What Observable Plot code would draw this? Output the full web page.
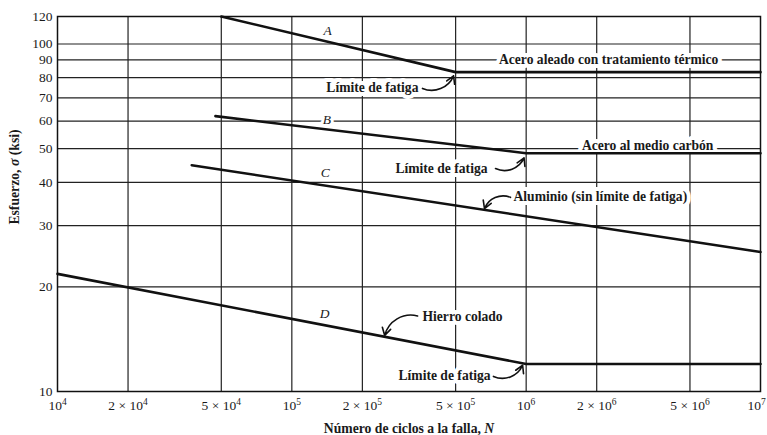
<!DOCTYPE html>
<html>
<head>
<meta charset="utf-8">
<script src="https://cdn.jsdelivr.net/npm/d3@7"></script>
<script src="https://cdn.jsdelivr.net/npm/@observablehq/plot@0.6"></script>
<style>
  html, body { margin: 0; padding: 0; background: #fff; }
</style>
</head>
<body>
<div id="chart"></div>
<script>
// ---- Axis ticks ----
const xTicks = [1e4, 2e4, 5e4, 1e5, 2e5, 5e5, 1e6, 2e6, 5e6, 1e7];
const xTickLabels = ["10⁴", "2 × 10⁴", "5 × 10⁴", "10⁵", "2 × 10⁵", "5 × 10⁵", "10⁶", "2 × 10⁶", "5 × 10⁶", "10⁷"];
const yTicks = [10, 20, 30, 40, 50, 60, 70, 80, 90, 100, 120];
const xGrid = [2e4, 5e4, 1e5, 2e5, 5e5, 1e6, 2e6, 5e6];
const yGrid = [20, 30, 40, 50, 60, 70, 80, 90, 100];

// ---- S-N curves (N cycles, stress ksi) ----
const curveA_N = [5e4, 5e5, 1e7];
const curveA_S = [120, 83, 83];
const curveB_N = [4.72e4, 1e6, 1e7];
const curveB_S = [62, 48.5, 48.5];
const curveC_N = [3.74e4, 1e7];
const curveC_S = [44.8, 25.2];
const curveD_N = [1e4, 1e6, 1e7];
const curveD_S = [21.8, 12, 12];

// ---- Curve letters ----
const letterText = ["A", "B", "C", "D"];
const letterN = [1.42e5, 1.41e5, 1.39e5, 1.38e5];
const letterS = [109, 60.5, 42.5, 16.8];

// ---- Annotations ----
const noteText = ["Acero aleado con tratamiento térmico", "Límite de fatiga", "Acero al medio carbón",
  "Límite de fatiga", "Aluminio (sin límite de fatiga)", "Hierro colado", "Límite de fatiga"];
const noteN = [2.25e6, 3.47e5, 3.3e6, 6.84e5, 8.83e5, 3.61e5, 7.05e5];
const noteS = [90, 75, 51, 43.9, 36.3, 16.4, 11.1];
const noteAnchor = ["middle", "end", "middle", "end", "start", "start", "end"];

// ---- Arrows (from label to curve) ----
const arrowN1 = [3.61e5, 7.4e5, 8.57e5, 3.44e5, 7.25e5];
const arrowS1 = [74.5, 43.8, 36.2, 16.5, 11.05];
const arrowN2 = [4.9e5, 9.8e5, 6.64e5, 2.49e5, 9.66e5];
const arrowS2 = [81, 47, 33.6, 14.5, 11.9];

const curves = [];
[["A", curveA_N, curveA_S], ["B", curveB_N, curveB_S], ["C", curveC_N, curveC_S], ["D", curveD_N, curveD_S]]
  .forEach(([k, ns, ss]) => ns.forEach((n, i) => curves.push({series: k, N: n, S: ss[i]})));
const letters = letterText.map((t, i) => ({t, N: letterN[i], S: letterS[i]}));
const notes = noteText.map((t, i) => ({t, N: noteN[i], S: noteS[i], a: noteAnchor[i]}));
const arrows = arrowN1.map((n, i) => ({x1: n, y1: arrowS1[i], x2: arrowN2[i], y2: arrowS2[i]}));
const xTickRows = xTicks.map((d, i) => ({N: d, label: xTickLabels[i], last: i === xTicks.length - 1}));

const ink = "#1a1a1a";
const noteMarks = ["start", "middle", "end"].map(a =>
  Plot.text(notes.filter(d => d.a === a), {
    x: "N", y: "S", text: "t", textAnchor: a,
    fill: ink, stroke: "white", strokeWidth: 8, fontWeight: "bold", fontSize: 13.6
  })
);

const chart = Plot.plot({
  width: 767,
  height: 435,
  marginLeft: 57,
  marginRight: 7,
  marginTop: 16,
  marginBottom: 44,
  x: {type: "log", domain: [1e4, 1e7], axis: null},
  y: {type: "log", domain: [10, 120]},
  style: {fontFamily: "'Liberation Serif', 'DejaVu Serif', serif", fontSize: "13.5px", color: ink, background: "white"},
  marks: [
    Plot.gridX(xGrid, {stroke: "#222", strokeOpacity: 1, strokeWidth: 1.2}),
    Plot.gridY(yGrid, {stroke: "#222", strokeOpacity: 1, strokeWidth: 1.2}),
    Plot.frame({stroke: "#111", strokeWidth: 1.5}),
    Plot.text(xTickRows.filter(d => !d.last), {x: "N", text: "label", frameAnchor: "bottom", lineAnchor: "middle",
      textAnchor: "middle", dy: 14, fill: ink, fontSize: 13.5}),
    Plot.text(xTickRows.filter(d => d.last), {x: "N", text: "label", frameAnchor: "bottom", lineAnchor: "middle",
      textAnchor: "middle", dy: 14, dx: -4, fill: ink, fontSize: 13.5}),
    Plot.axisY(yTicks, {tickSize: 0, tickPadding: 5, tickFormat: d => String(d), label: null, fontSize: 13.5}),
    ...noteMarks,
    Plot.line(curves, {x: "N", y: "S", z: "series", stroke: "#111", strokeWidth: 2.6}),
    Plot.text(letters, {x: "N", y: "S", text: "t", fill: ink, fontStyle: "italic", fontSize: 13.5,
      stroke: "white", strokeWidth: 6}),
    Plot.arrow(arrows, {x1: "x1", y1: "y1", x2: "x2", y2: "y2", bend: -45, stroke: "#111",
      strokeWidth: 1.6, headLength: 8}),
    Plot.text(["Esfuerzo, σ (ksi)"], {frameAnchor: "left", textAnchor: "middle", rotate: -90, dx: -43, dy: -27,
      fill: ink, fontWeight: "bold", fontSize: 13.7}),
    Plot.text(["Número de ciclos a la falla, N"], {frameAnchor: "bottom", textAnchor: "middle", lineAnchor: "middle", dy: 37,
      fill: ink, fontWeight: "bold", fontSize: 13.7})
  ]
});

const NS = "http://www.w3.org/2000/svg";
const supMap = {"⁴": "4", "⁵": "5", "⁶": "6", "⁷": "7"};
chart.querySelectorAll("text").forEach(t => {
  const s = t.textContent;
  if (s === "Número de ciclos a la falla, N") {
    t.textContent = "";
    const a = document.createElementNS(NS, "tspan");
    a.textContent = "Número de ciclos a la falla, ";
    const b = document.createElementNS(NS, "tspan");
    b.textContent = "N";
    b.setAttribute("font-style", "italic");
    t.appendChild(a); t.appendChild(b);
  } else if (s === "Esfuerzo, σ (ksi)") {
    t.textContent = "";
    ["Esfuerzo, ", "σ", " (ksi)"].forEach((p, i) => {
      const e = document.createElementNS(NS, "tspan");
      e.textContent = p;
      if (i === 1) e.setAttribute("font-style", "italic");
      t.appendChild(e);
    });
  } else if (/10[⁴⁵⁶⁷]$/.test(s)) {
    const base = s.slice(0, -1), sup = supMap[s.slice(-1)];
    t.textContent = "";
    const a = document.createElementNS(NS, "tspan");
    a.textContent = base;
    const b = document.createElementNS(NS, "tspan");
    b.textContent = sup;
    b.setAttribute("font-size", "9.5px");
    b.setAttribute("dy", "-5");
    t.appendChild(a); t.appendChild(b);
  }
});

document.getElementById("chart").appendChild(chart);
</script>
</body>
</html>
